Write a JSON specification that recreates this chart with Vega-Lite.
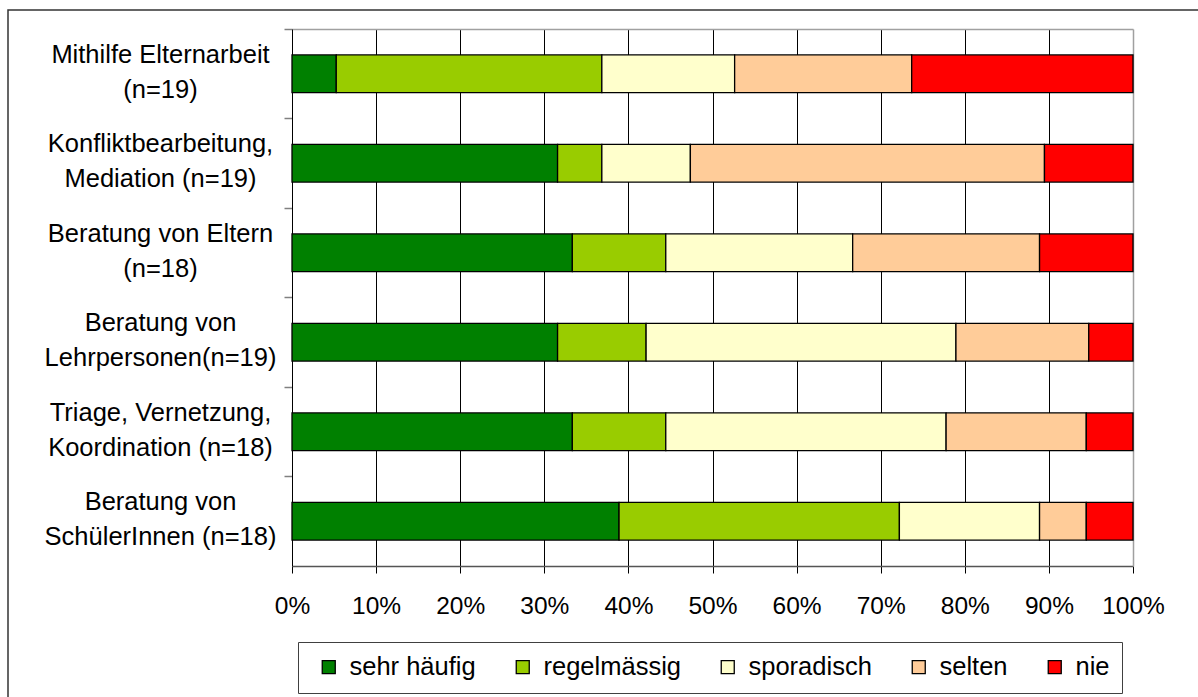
{
  "$schema": "https://vega.github.io/schema/vega-lite/v6.json",
  "autosize": {"type": "none"},
  "padding": {"left": 8, "top": 10, "right": 0, "bottom": 0},
  "width": 1200,
  "height": 700,
  "background": "white",
  "config": {
    "font": "Liberation Sans",
    "view": {"stroke": "#333333", "strokeWidth": 1.5}
  },
  "data": {
    "values": [
      {"item": "Mithilfe Elternarbeit|(n=19)", "resp": "sehr häufig", "o": 1, "n": 1},
      {"item": "Mithilfe Elternarbeit|(n=19)", "resp": "regelmässig", "o": 2, "n": 6},
      {"item": "Mithilfe Elternarbeit|(n=19)", "resp": "sporadisch", "o": 3, "n": 3},
      {"item": "Mithilfe Elternarbeit|(n=19)", "resp": "selten", "o": 4, "n": 4},
      {"item": "Mithilfe Elternarbeit|(n=19)", "resp": "nie", "o": 5, "n": 5},
      {"item": "Konfliktbearbeitung,|Mediation (n=19)", "resp": "sehr häufig", "o": 1, "n": 6},
      {"item": "Konfliktbearbeitung,|Mediation (n=19)", "resp": "regelmässig", "o": 2, "n": 1},
      {"item": "Konfliktbearbeitung,|Mediation (n=19)", "resp": "sporadisch", "o": 3, "n": 2},
      {"item": "Konfliktbearbeitung,|Mediation (n=19)", "resp": "selten", "o": 4, "n": 8},
      {"item": "Konfliktbearbeitung,|Mediation (n=19)", "resp": "nie", "o": 5, "n": 2},
      {"item": "Beratung von Eltern|(n=18)", "resp": "sehr häufig", "o": 1, "n": 6},
      {"item": "Beratung von Eltern|(n=18)", "resp": "regelmässig", "o": 2, "n": 2},
      {"item": "Beratung von Eltern|(n=18)", "resp": "sporadisch", "o": 3, "n": 4},
      {"item": "Beratung von Eltern|(n=18)", "resp": "selten", "o": 4, "n": 4},
      {"item": "Beratung von Eltern|(n=18)", "resp": "nie", "o": 5, "n": 2},
      {"item": "Beratung von|Lehrpersonen(n=19)", "resp": "sehr häufig", "o": 1, "n": 6},
      {"item": "Beratung von|Lehrpersonen(n=19)", "resp": "regelmässig", "o": 2, "n": 2},
      {"item": "Beratung von|Lehrpersonen(n=19)", "resp": "sporadisch", "o": 3, "n": 7},
      {"item": "Beratung von|Lehrpersonen(n=19)", "resp": "selten", "o": 4, "n": 3},
      {"item": "Beratung von|Lehrpersonen(n=19)", "resp": "nie", "o": 5, "n": 1},
      {"item": "Triage, Vernetzung,|Koordination (n=18)", "resp": "sehr häufig", "o": 1, "n": 6},
      {"item": "Triage, Vernetzung,|Koordination (n=18)", "resp": "regelmässig", "o": 2, "n": 2},
      {"item": "Triage, Vernetzung,|Koordination (n=18)", "resp": "sporadisch", "o": 3, "n": 6},
      {"item": "Triage, Vernetzung,|Koordination (n=18)", "resp": "selten", "o": 4, "n": 3},
      {"item": "Triage, Vernetzung,|Koordination (n=18)", "resp": "nie", "o": 5, "n": 1},
      {"item": "Beratung von|SchülerInnen (n=18)", "resp": "sehr häufig", "o": 1, "n": 7},
      {"item": "Beratung von|SchülerInnen (n=18)", "resp": "regelmässig", "o": 2, "n": 6},
      {"item": "Beratung von|SchülerInnen (n=18)", "resp": "sporadisch", "o": 3, "n": 3},
      {"item": "Beratung von|SchülerInnen (n=18)", "resp": "selten", "o": 4, "n": 1},
      {"item": "Beratung von|SchülerInnen (n=18)", "resp": "nie", "o": 5, "n": 1}
    ]
  },
  "layer": [
    {
      "mark": {"type": "bar", "stroke": "black", "strokeWidth": 1.3, "height": {"band": 0.42}},
      "encoding": {
        "y": {
          "field": "item", "type": "nominal", "sort": null,
          "scale": {"range": [19, 556], "paddingInner": 0, "paddingOuter": 0},
          "axis": {
            "orient": "left", "offset": -284, "title": null, "grid": false,
            "domainColor": "#000000", "domainWidth": 1,
            "tickColor": "#808080", "tickSize": 8, "tickWidth": 1.5, "bandPosition": 0,
            "labelAlign": "center", "labelBaseline": "middle", "labelPadding": 124,
            "labelOffset": -19,
            "labelFontSize": 25.5, "labelColor": "#000000", "labelLimit": 0,
            "labelExpr": "split(datum.label, '|')", "labelLineHeight": 35
          }
        },
        "x": {
          "field": "n", "type": "quantitative", "stack": "normalize",
          "scale": {"domain": [0, 1], "range": [284, 1125], "nice": false},
          "axis": {
            "orient": "bottom", "offset": -144, "title": null, "grid": false,
            "format": ".0%", "values": [0, 0.1, 0.2, 0.3, 0.4, 0.5, 0.6, 0.7, 0.8, 0.9, 1],
            "domainColor": "#555555", "domainWidth": 1.5,
            "tickColor": "#000000", "tickSize": 7, "tickWidth": 1,
            "labelFontSize": 24.5, "labelPadding": 21, "labelColor": "#000000",
            "labelFlush": false, "labelOverlap": false
          }
        },
        "color": {
          "field": "resp", "type": "nominal",
          "scale": {
            "domain": ["sehr häufig", "regelmässig", "sporadisch", "selten", "nie"],
            "range": ["#008000", "#99CC00", "#FFFFCC", "#FFCC99", "#FF0000"]
          },
          "legend": {
            "orient": "none", "legendX": 290, "legendY": 632,
            "direction": "horizontal", "columns": 5,
            "title": " ", "titleOrient": "left", "titleFontSize": 1, "titlePadding": 6,
            "strokeColor": "#404040", "padding": 12, "columnPadding": 34,
            "symbolType": "square", "symbolSize": 169, "symbolStrokeColor": "#000000",
            "symbolStrokeWidth": 1.3, "symbolOpacity": 1,
            "labelFontSize": 25.5, "labelOffset": 8, "labelColor": "#000000", "labelLimit": 0
          }
        },
        "order": {"field": "o", "type": "quantitative"}
      }
    },
    {
      "mark": {"type": "bar", "opacity": 0, "height": {"band": 0.42}},
      "encoding": {
        "y": {
          "field": "item", "type": "nominal", "sort": null,
          "axis": {
            "orient": "right", "offset": -75, "title": null, "grid": false,
            "ticks": false, "labels": false,
            "domainColor": "#A0A0A0", "domainWidth": 1.5
          }
        },
        "x": {
          "field": "n", "type": "quantitative", "stack": "normalize",
          "axis": {
            "orient": "top", "offset": -19, "title": null,
            "ticks": false, "labels": false,
            "grid": true, "gridColor": "#000000", "gridWidth": 1,
            "values": [0.1, 0.2, 0.3, 0.4, 0.5, 0.6, 0.7, 0.8, 0.9],
            "domainColor": "#A0A0A0", "domainWidth": 1.5
          }
        }
      }
    }
  ],
  "resolve": {"axis": {"x": "independent", "y": "independent"}}
}
